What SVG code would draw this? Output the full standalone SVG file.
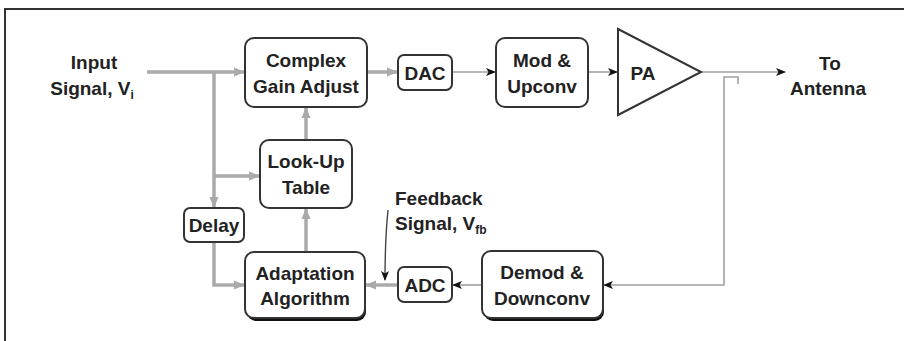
<svg xmlns="http://www.w3.org/2000/svg" width="904" height="341" viewBox="0 0 904 341">
<defs>
<style>
.box{fill:#fff;stroke:#333;stroke-width:2}
.shadow{fill:#111;stroke:none}
.t{font-family:"Liberation Sans",Arial,sans-serif;font-weight:bold;font-size:19px;fill:#222;text-anchor:middle}
.tl{text-anchor:start}
.thick{fill:none;stroke:#aaa;stroke-width:3.5}
.thin{fill:none;stroke:#a0a0a0;stroke-width:1.6}
.dark{fill:none;stroke:#444;stroke-width:1.4}
</style>
<marker id="ga" markerUnits="userSpaceOnUse" markerWidth="11" markerHeight="10" refX="10" refY="5" orient="auto">
<path d="M0,0.5 L11,5 L0,9.5 z" fill="#aaa"/>
</marker>
<marker id="ba" markerUnits="userSpaceOnUse" markerWidth="10" markerHeight="10" refX="9" refY="5" orient="auto">
<path d="M0,1 L10,5 L0,9 L2.5,5 z" fill="#111"/>
</marker>
</defs>
<rect width="904" height="341" fill="#fff"/>
<path d="M5,341 V9 H904" fill="none" stroke="#333" stroke-width="2"/>

<g id="input-label">
<text class="t" x="94" y="69">Input</text>
<text class="t" x="92" y="95">Signal, V<tspan font-size="12" dy="4">i</tspan></text>
</g>

<g id="connectors">
<line class="thick" x1="147" y1="72" x2="244" y2="72" marker-end="url(#ga)"/>
<line class="thick" x1="214" y1="72" x2="214" y2="207" marker-end="url(#ga)"/>
<line class="thick" x1="214" y1="176" x2="259" y2="176" marker-end="url(#ga)"/>
<path class="thick" d="M214,242 V285 H244" marker-end="url(#ga)"/>
<line class="thick" x1="306" y1="140" x2="306" y2="108" marker-end="url(#ga)"/>
<line class="thick" x1="306" y1="252" x2="306" y2="209" marker-end="url(#ga)"/>
<line class="thick" x1="367" y1="72" x2="397" y2="72" marker-end="url(#ga)"/>
<line class="thin" x1="452" y1="72" x2="495" y2="72" marker-end="url(#ba)"/>
<line class="thin" x1="588" y1="72" x2="617" y2="72" marker-end="url(#ba)"/>
<line class="thin" x1="701" y1="72" x2="785" y2="72" marker-end="url(#ba)"/>
<path class="thin" d="M738,84 V77 H724 V285 H604" marker-end="url(#ba)"/>
<line class="thin" x1="482" y1="285" x2="453" y2="285" marker-end="url(#ba)"/>
<line class="thick" x1="398" y1="285" x2="366" y2="285" marker-end="url(#ga)"/>
<path class="dark" d="M388,210 Q385,240 385,280" marker-end="url(#ba)"/>
</g>

<g id="complex-gain-adjust">
<rect class="box" x="245" y="38" width="122" height="69" rx="9"/>
<text class="t" x="306" y="67">Complex</text>
<text class="t" x="306" y="93">Gain Adjust</text>
</g>

<g id="dac">
<rect class="box" x="398" y="55" width="54" height="35" rx="6"/>
<text class="t" x="425" y="79.5">DAC</text>
</g>

<g id="mod-upconv">
<rect class="box" x="496" y="38" width="92" height="69" rx="9"/>
<text class="t" x="542" y="67">Mod &amp;</text>
<text class="t" x="542" y="93">Upconv</text>
</g>

<g id="pa">
<polygon points="618,29 701,72 618,115" fill="#fff" stroke="#333" stroke-width="2"/>
<text class="t" x="643" y="80" font-size="20">PA</text>
</g>

<g id="antenna-label">
<text class="t" x="830" y="70">To</text>
<text class="t" x="828" y="95">Antenna</text>
</g>

<g id="look-up-table">
<rect class="box" x="260" y="140" width="92" height="68" rx="9"/>
<text class="t" x="306" y="168">Look-Up</text>
<text class="t" x="306" y="194">Table</text>
</g>

<g id="delay">
<rect class="box" x="184" y="208" width="60" height="34" rx="6"/>
<text class="t" x="214" y="232">Delay</text>
</g>

<g id="adaptation-algorithm">
<rect class="shadow" x="247" y="255" width="119" height="66" rx="9"/>
<rect class="box" x="245" y="252" width="120" height="66" rx="9"/>
<text class="t" x="305" y="280">Adaptation</text>
<text class="t" x="305" y="305">Algorithm</text>
</g>

<g id="adc">
<rect class="box" x="398" y="267" width="54" height="35" rx="6"/>
<text class="t" x="425" y="292">ADC</text>
</g>

<g id="demod-downconv">
<rect class="shadow" x="484" y="254" width="120" height="67" rx="9"/>
<rect class="box" x="482" y="251" width="121" height="67" rx="9"/>
<text class="t" x="542" y="279">Demod &amp;</text>
<text class="t" x="542" y="305">Downconv</text>
</g>

<g id="feedback-label">
<text class="t tl" x="395" y="205">Feedback</text>
<text class="t tl" x="395" y="230">Signal, V<tspan font-size="12" dy="4">fb</tspan></text>
</g>
</svg>
